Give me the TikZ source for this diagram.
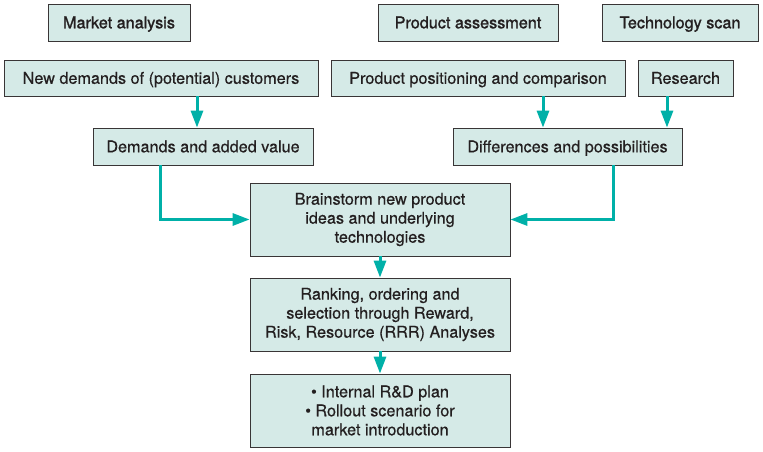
\documentclass[tikz,border=0pt]{standalone}
\usepackage{fontspec}
\setmainfont{TeX Gyre Heros}[FakeBold=0.5]
\newfontfamily\headfont{TeX Gyre Heros}[FakeBold=1.4]
\usetikzlibrary{arrows.meta}
\definecolor{boxfill}{HTML}{D5EAE7}
\definecolor{arrcol}{HTML}{00B0A8}
\definecolor{txt}{HTML}{231F20}
\tikzset{
  box/.style={draw=txt!90, line width=0.8pt, fill=boxfill, text=txt, font=\fontsize{16.2}{19}\selectfont, inner sep=0pt, align=center, minimum height=37pt},
  onebox/.style={box, text height=12pt, text depth=0.4pt},
  headbox/.style={onebox, font=\headfont\fontsize{16.2}{19}\selectfont},
  bigbox/.style={box, minimum width=260pt, minimum height=73pt},
  arr/.style={draw=arrcol, line width=3pt, -{Triangle[width=12pt,length=17pt]}}
}
\begin{document}
\begin{tikzpicture}[x=1pt,y=-1pt]
\useasboundingbox (0,0) rectangle (763,452);
\node[headbox, minimum width=142pt] (market) at (119,22.5) {Market analysis};
\node[headbox, minimum width=180pt] (prodass) at (468,22.5) {Product assessment};
\node[headbox, minimum width=156pt] (techscan) at (680,22.5) {Technology scan};
\node[onebox, minimum width=314pt, minimum height=36pt] (newdem) at (161,78) {New demands of (potential) customers};
\node[onebox, minimum width=294pt, minimum height=36pt] (prodpos) at (478,78) {Product positioning and comparison};
\node[onebox, minimum width=95pt, minimum height=36pt] (research) at (685.5,78) {Research};
\node[onebox, minimum width=220pt] (demands) at (203,146.5) {Demands and added value};
\node[onebox, minimum width=229pt] (diff) at (567.5,146.5) {Differences and possibilities};
\node[bigbox] (brain) at (380,219.5) {Brainstorm new product\\ideas and underlying\\technologies};
\node[bigbox] (rank) at (380,314.5) {Ranking, ordering and\\selection through Reward,\\Risk, Resource (RRR) Analyses};
\node[bigbox] (plan) at (380,410.5) {\textbullet\ Internal R\&D plan\\\textbullet\ Rollout scenario for\\market introduction};
\coordinate (xa) at (197,0);
\coordinate (xb) at (543,0);
\coordinate (xc) at (667,0);
\coordinate (xd) at (160,0);
\coordinate (xe) at (613,0);
\draw[arr] (newdem.south -| xa) -- (demands.north -| xa);
\draw[arr] (prodpos.south -| xb) -- (diff.north -| xb);
\draw[arr] (research.south -| xc) -- (diff.north -| xc);
\draw[arr] (demands.south -| xd) |- (brain.west);
\draw[arr] (diff.south -| xe) |- (brain.east);
\draw[arr] (brain.south) -- (rank.north);
\draw[arr] (rank.south) -- (plan.north);
\end{tikzpicture}
\end{document}
